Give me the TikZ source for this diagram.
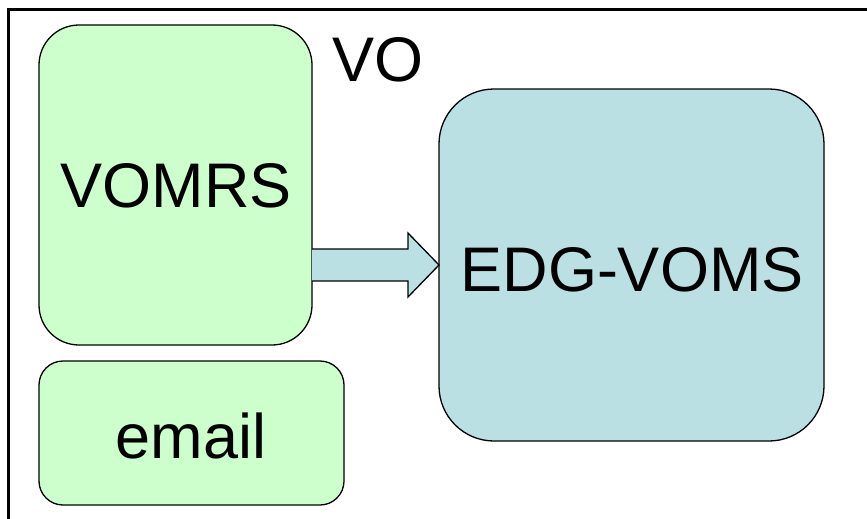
\documentclass[tikz,border=0pt]{standalone}
\usepackage{fontspec}
\setmainfont{Liberation Sans}
\usetikzlibrary{calc}
\definecolor{boxgreen}{HTML}{CCFFCC}
\definecolor{boxblue}{HTML}{BBE0E3}
\begin{document}
\begin{tikzpicture}[x=1pt,y=-1pt,
  rbox/.style={draw=black,line width=1.3pt,inner sep=0pt,outer sep=0pt},
  lbl/.style={font=\fontsize{63}{70}\selectfont,inner sep=0pt}]
\useasboundingbox (0,0) rectangle (867,519);
\begin{scope}
\clip (0,0) rectangle (867,519);
\draw[line width=3pt] (8.5,9.5) rectangle (900,560);
\end{scope}
% boxes
\node[rbox,fill=boxgreen,rounded corners=40pt,minimum width=273pt,minimum height=320pt] (vomrs) at (175.5,185) {};
\node[rbox,fill=boxgreen,rounded corners=24pt,minimum width=305pt,minimum height=144pt] (email) at (191.5,433) {};
\node[rbox,fill=boxblue,rounded corners=55pt,minimum width=385pt,minimum height=352pt] (edg) at (631.5,265) {};
% texts
\node[lbl] (vomrsT) at (176,186) {VOMRS};
\node[lbl] (emailT) at (191,436) {email};
\node[lbl] (edgT) at (632,270) {EDG-VOMS};
\node[lbl] (vo) at (378,60) {VO};
% block arrow from VOMRS to EDG-VOMS
\coordinate (tip) at (edg.west |- 0,265);
\draw[rbox,fill=boxblue,line join=miter]
  ($(vomrs.east |- 0,249)$) -- ($(tip)+(-31,-16)$) -- ($(tip)+(-31,-32)$) -- (tip)
  -- ($(tip)+(-31,32)$) -- ($(tip)+(-31,16)$) -- ($(vomrs.east |- 0,281)$);
\end{tikzpicture}
\end{document}
